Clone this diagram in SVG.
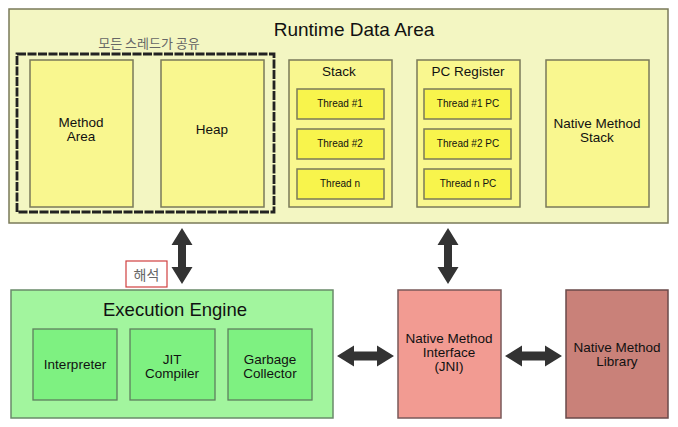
<svg xmlns="http://www.w3.org/2000/svg" width="678" height="427" viewBox="0 0 678 427">
<style>
text{font-family:"Liberation Sans",Arial,"Noto Sans CJK KR",sans-serif;fill:#111;text-anchor:middle}
.ko{font-family:"Noto Sans CJK KR","Liberation Sans",sans-serif;fill:#666}
.box{stroke:#7a7a5a;stroke-width:1.5}
.area{fill:#f9f78f}
.thr{fill:#f8f44c}
.lbl{font-size:13.5px}
.sm{font-size:10px}
.arrow{fill:#333}
</style>
<rect width="678" height="427" fill="#fff"/>
<g id="runtime-data-area">
<rect class="box" x="9" y="9" width="659" height="214" fill="#f3f6c2"/>
<text x="354" y="36" font-size="19">Runtime Data Area</text>
</g>
<g id="shared-group">
<text class="ko" x="149" y="48" font-size="13">모든 스레드가 공유</text>
<rect x="17" y="54" width="257" height="158" fill="none" stroke="#222" stroke-width="2.8" stroke-dasharray="9 1.5"/>
</g>
<g id="method-area">
<rect class="box area" x="30" y="60" width="103" height="147"/>
<text class="lbl" x="81" y="127">Method</text>
<text class="lbl" x="81" y="141">Area</text>
</g>
<g id="heap">
<rect class="box area" x="161" y="60" width="103" height="147"/>
<text class="lbl" x="212" y="134">Heap</text>
</g>
<g id="stack">
<rect class="box area" x="289" y="60" width="103" height="147"/>
<text class="lbl" x="339" y="76">Stack</text>
<rect class="box thr" x="297" y="89" width="87" height="30"/>
<text class="sm" x="340" y="107">Thread #1</text>
<rect class="box thr" x="297" y="129" width="87" height="30"/>
<text class="sm" x="340" y="147">Thread #2</text>
<rect class="box thr" x="297" y="169" width="87" height="30"/>
<text class="sm" x="340" y="187">Thread n</text>
</g>
<g id="pc-register">
<rect class="box area" x="417" y="60" width="103" height="147"/>
<text class="lbl" x="468" y="76">PC Register</text>
<rect class="box thr" x="424" y="89" width="87" height="30"/>
<text class="sm" x="468" y="107">Thread #1 PC</text>
<rect class="box thr" x="424" y="129" width="87" height="30"/>
<text class="sm" x="468" y="147">Thread #2 PC</text>
<rect class="box thr" x="424" y="169" width="87" height="30"/>
<text class="sm" x="468" y="187">Thread n PC</text>
</g>
<g id="native-method-stack">
<rect class="box area" x="546" y="60" width="103" height="147"/>
<text class="lbl" x="597" y="128">Native Method</text>
<text class="lbl" x="597" y="142">Stack</text>
</g>
<g id="interpretation-label">
<rect x="126" y="261" width="41" height="26" fill="#fff" stroke="#d04040" stroke-width="1.2"/>
<text class="ko" x="146.5" y="280" font-size="14">해석</text>
</g>
<g id="execution-engine">
<rect x="11" y="290" width="322" height="128" fill="#a2f59e" stroke="#6a8a6a" stroke-width="1.5"/>
<text x="175" y="316" font-size="18.5" fill="#333">Execution Engine</text>
</g>
<g id="interpreter">
<rect x="33" y="329" width="84" height="71" fill="#7ef181" stroke="#5f7f5f" stroke-width="1.3"/>
<text class="lbl" x="75" y="369">Interpreter</text>
</g>
<g id="jit-compiler">
<rect x="130" y="329" width="85" height="71" fill="#7ef181" stroke="#5f7f5f" stroke-width="1.3"/>
<text class="lbl" x="172" y="364">JIT</text>
<text class="lbl" x="172" y="378">Compiler</text>
</g>
<g id="garbage-collector">
<rect x="228" y="329" width="84" height="71" fill="#7ef181" stroke="#5f7f5f" stroke-width="1.3"/>
<text class="lbl" x="270" y="364">Garbage</text>
<text class="lbl" x="270" y="378">Collector</text>
</g>
<g id="native-method-interface">
<rect x="398" y="290" width="103" height="128" fill="#f29b92" stroke="#7a5a5a" stroke-width="1.5"/>
<text class="lbl" x="449" y="343">Native Method</text>
<text class="lbl" x="449" y="357">Interface</text>
<text class="lbl" x="449" y="371">(JNI)</text>
</g>
<g id="native-method-library">
<rect x="566" y="290" width="102" height="128" fill="#c98179" stroke="#6a4a4a" stroke-width="1.5"/>
<text class="lbl" x="617" y="352">Native Method</text>
<text class="lbl" x="617" y="366">Library</text>
</g>
<g id="connectors">
<path class="arrow" d="M182,228 L192.5,245 L186,245 L186,267 L192.5,267 L182,284 L171.5,267 L178,267 L178,245 L171.5,245 Z"/>
<path class="arrow" d="M448,228 L458.5,245 L452,245 L452,267 L458.5,267 L448,284 L437.5,267 L444,267 L444,245 L437.5,245 Z"/>
<path class="arrow" d="M337,356 L354,345.5 L354,351.5 L377,351.5 L377,345.5 L394,356 L377,366.5 L377,360.5 L354,360.5 L354,366.5 Z"/>
<path class="arrow" d="M505,356 L522,345.5 L522,351.5 L545,351.5 L545,345.5 L562,356 L545,366.5 L545,360.5 L522,360.5 L522,366.5 Z"/>
</g>
</svg>
